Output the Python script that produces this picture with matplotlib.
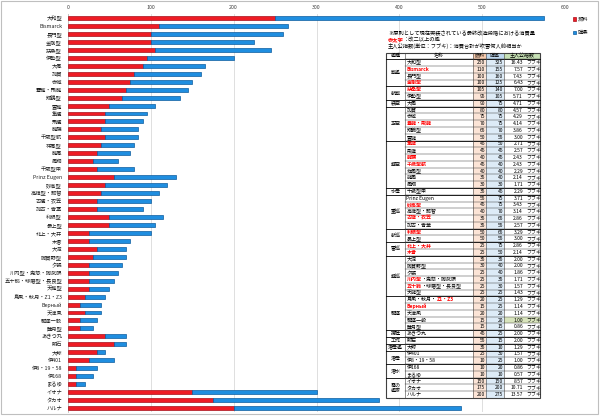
import matplotlib
matplotlib.use("Agg")
import matplotlib.pyplot as plt
from matplotlib.patches import Rectangle

plt.rcParams['font.family'] = ['Noto Sans CJK JP', 'DejaVu Sans']

# ---------- データ ----------
names = [
    "大和型", "Bismarck", "長門型", "金剛型", "扶桑型", "伊勢型", "大鳳", "加賀", "赤城",
    "蒼龍・飛龍", "翔鶴型", "雲龍", "隼鷹", "飛鷹", "龍驤", "千歳型航", "祥鳳型", "龍鳳",
    "鳳翔", "千歳型甲", "Prinz Eugen", "妙高型", "高雄型・那智", "古鷹・衣笠", "加古・青葉",
    "利根型", "最上型", "北上・大井", "木曾", "大淀", "阿賀野型", "夕張",
    "川内型・鬼怒・阿武隈", "五十鈴・球磨型・長良型", "天龍型", "島風・秋月・Z1・Z3",
    "Верный", "天津風", "駆逐一般", "睦月型", "あきつ丸", "明石", "大鯨", "伊401",
    "伊8・19・58", "伊168", "まるゆ", "イオナ", "タカオ", "ハルナ",
]
fuel = [250, 110, 100, 100, 105, 95, 90, 80, 75, 70, 65, 50, 45, 45, 40, 45, 40, 35,
        30, 35, 55, 45, 40, 35, 35, 50, 50, 25, 25, 35, 30, 25, 25, 25, 25, 20,
        15, 20, 15, 15, 45, 55, 35, 25, 10, 10, 10, 150, 175, 200]
ammo = [325, 155, 160, 125, 140, 105, 75, 80, 75, 75, 70, 55, 50, 45, 45, 40, 40, 40,
        30, 45, 75, 75, 70, 65, 55, 65, 55, 75, 50, 35, 40, 40, 35, 30, 25, 25,
        25, 20, 20, 15, 25, 15, 10, 30, 25, 20, 10, 150, 200, 275]

# 艦種と行数
groups = [("戦艦", 4), ("航戦", 2), ("装空", 1), ("正空", 5), ("軽空", 7), ("水母", 1),
          ("重巡", 5), ("航巡", 2), ("雷巡", 2), ("軽巡", 6), ("駆逐", 5), ("揚陸", 1),
          ("工作", 1), ("潜母艦", 1), ("潜母", 2), ("潜水", 2), ("霧の\n艦隊", 3)]

# 赤太字（改二以上）
red_names = ["Bismarck", "金剛型", "扶桑型", "蒼龍・飛龍", "隼鷹", "龍驤", "千歳型航",
             "妙高型", "古鷹・衣笠", "利根型", "北上・大井", "木曾", "Верный"]
partial_red = {
    "川内型・鬼怒・阿武隈": [("川内型", True), ("・鬼怒・阿武隈", False)],
    "五十鈴・球磨型・長良型": [("五十鈴", True), ("・球磨型・長良型", False)],
    "島風・秋月・Z1・Z3": [("島風・秋月・", False), ("Z1・Z3", True)],
}
fubuki = 15 + 20  # 吹雪の消費合計

RED, RED_E = "#EE1C25", "#A8101A"
BLUE, BLUE_E = "#1F8EE0", "#0E5C9E"

fig = plt.figure(figsize=(6, 4.18), dpi=100)
W, H = 600, 418
ax = fig.add_axes([68 / W, 1 - 412 / H, (565 - 68) / W, (412 - 14) / H])

y = list(range(len(names)))
ax.barh(y, fuel, height=0.5, color=RED, edgecolor=RED_E, linewidth=0.5, label="燃料", zorder=3)
ax.barh(y, ammo, left=fuel, height=0.5, color=BLUE, edgecolor=BLUE_E, linewidth=0.5,
        label="弾薬", zorder=3)

ax.set_xlim(0, 600)
ax.set_ylim(len(names) - 0.5, -0.5)
ax.xaxis.tick_top()
ax.set_xticks(range(0, 601, 100))
ax.set_yticks(y)
ax.set_yticklabels(names)
ax.grid(axis="x", color="#D9D9D9", linewidth=0.6)
ax.set_axisbelow(True)
for s in ["top", "right", "bottom"]:
    ax.spines[s].set_visible(False)
ax.spines["left"].set_color("#BFBFBF")
ax.spines["left"].set_linewidth(0.6)
ax.tick_params(axis="x", length=0, labelsize=3.8, pad=3, colors="#404040")
ax.tick_params(axis="y", length=0, labelsize=3.8, pad=4.3, colors="#202020")

ax.legend(loc="upper left", bbox_to_anchor=(568 / W, 1 - 12 / H), bbox_transform=fig.transFigure,
          frameon=False, fontsize=3.8, handlelength=0.6, handleheight=0.6,
          handletextpad=0.4, labelspacing=1.6)

# ---------- 表（ピクセル座標のオーバーレイ） ----------
ov = fig.add_axes([0, 0, 1, 1], zorder=5)
ov.set_xlim(0, W)
ov.set_ylim(H, 0)
ov.axis("off")
ov.patch.set_alpha(0)

ov.add_patch(Rectangle((1, 1), 597, 413, fill=False, edgecolor="#BFBFBF", lw=0.8))

fs = 3.6
ov.text(388, 34, "※原則として現在実装されている最終改造段階における消費量", fontsize=3.8, va="center")
t = ov.text(388, 40, "赤太字", fontsize=3.8, va="center", color="red", fontweight="bold")
ov.annotate("：改二以上の艦", xy=(1, 0), xycoords=t, va="bottom", ha="left", fontsize=3.8)
ov.text(388, 46, "主人公指数(単位：フブキ)：消費合計が吹雪何人前相当か", fontsize=3.8, va="center")

cols = [386, 405, 473, 486, 504, 540]
top = 52.5
rh = (398 - top) / (len(names) + 1)
bottom = top + rh * (len(names) + 1)

# 背景
ov.add_patch(Rectangle((cols[0], top), cols[-1] - cols[0], bottom - top, facecolor="white", lw=0))
ov.add_patch(Rectangle((cols[2], top), cols[3] - cols[2], bottom - top, facecolor="#FCE4D6", lw=0))
ov.add_patch(Rectangle((cols[3], top), cols[4] - cols[3], bottom - top, facecolor="#DDEBF7", lw=0))
ov.add_patch(Rectangle((cols[2], top), cols[3] - cols[2], rh, facecolor="#F8CBAD", lw=0))
ov.add_patch(Rectangle((cols[3], top), cols[4] - cols[3], rh, facecolor="#BDD7EE", lw=0))
ov.add_patch(Rectangle((cols[4], top), cols[5] - cols[4], rh, facecolor="#C6E0B4", lw=0))
i_kuchiku = names.index("駆逐一般")
ov.add_patch(Rectangle((cols[4], top + rh * (i_kuchiku + 1)), cols[5] - cols[4], rh,
                       facecolor="#D8E4BC", lw=0))

# ヘッダー
for c, lab in enumerate(["艦種", "名称", "燃料", "弾薬", "主人公指数"]):
    ov.text((cols[c] + cols[c + 1]) / 2, top + rh / 2, lab, fontsize=fs, ha="center", va="center")

# 行
for i, nm in enumerate(names):
    yc = top + rh * (i + 1.5)
    if nm in partial_red:
        prev = None
        for seg, is_red in partial_red[nm]:
            kw = dict(fontsize=fs, color="red" if is_red else "black",
                      fontweight="bold" if is_red else "normal")
            if prev is None:
                prev = ov.text(cols[1] + 1.5, yc, seg, va="center", **kw)
            else:
                prev = ov.annotate(seg, xy=(1, 0), xycoords=prev, va="bottom", ha="left", **kw)
    else:
        is_red = nm in red_names
        ov.text(cols[1] + 1.5, yc, nm, fontsize=fs, va="center",
                color="red" if is_red else "black", fontweight="bold" if is_red else "normal")
    ov.text(cols[3] - 1, yc, str(fuel[i]), fontsize=fs, ha="right", va="center")
    ov.text(cols[4] - 1, yc, str(ammo[i]), fontsize=fs, ha="right", va="center")
    ov.text(523, yc, f"{(fuel[i] + ammo[i]) / fubuki:.2f}", fontsize=fs, ha="right", va="center")
    ov.text(526, yc, "フブキ", fontsize=fs, ha="left", va="center")
    # 行の罫線
    ov.plot([cols[1], cols[-1]], [top + rh * (i + 1)] * 2, color="#404040", lw=0.35)

# 艦種の区切り
r = 0
for g, n in groups:
    y0 = top + rh * (r + 1)
    ov.plot([cols[0], cols[-1]], [y0, y0], color="black", lw=0.6)
    ov.text((cols[0] + cols[1]) / 2, y0 + rh * n / 2, g, fontsize=fs, ha="center", va="center",
            linespacing=1.1)
    r += n

# 縦の罫線と外枠
for c in cols[1:-1]:
    ov.plot([c, c], [top, bottom], color="#404040", lw=0.4)
ov.add_patch(Rectangle((cols[0], top), cols[-1] - cols[0], bottom - top, fill=False,
                       edgecolor="#404040", lw=0.8))

fig.savefig("out.png", dpi=100)
